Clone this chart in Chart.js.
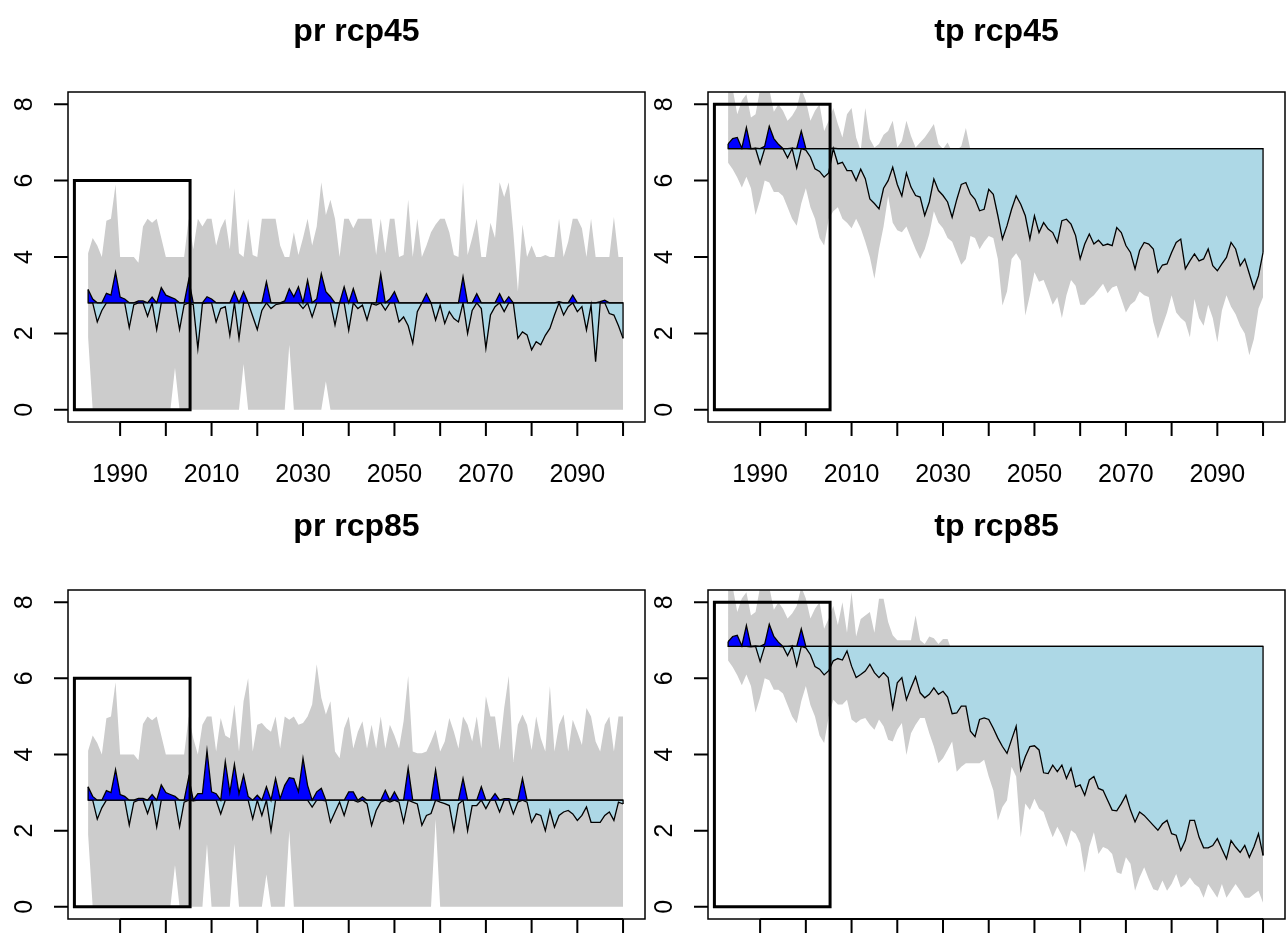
<!DOCTYPE html>
<html>
<head>
<meta charset="utf-8">
<script src="https://cdn.jsdelivr.net/npm/chart.js@4.4.0/dist/chart.umd.min.js"></script>
<style>
  html, body { margin: 0; padding: 0; background: #fff; overflow: hidden; }
  #wrap { position: relative; width: 1286px; height: 934px; }
  canvas { position: absolute; }
</style>
</head>
<body>
<div id="wrap">
  <canvas id="prRcp45" width="648" height="500" style="left:0;top:0;width:648px;height:500px"></canvas>
  <canvas id="tpRcp45" width="646" height="500" style="left:640px;top:0;width:646px;height:500px"></canvas>
  <canvas id="prRcp85" width="648" height="436" style="left:0;top:498px;width:648px;height:436px"></canvas>
  <canvas id="tpRcp85" width="646" height="436" style="left:640px;top:498px;width:646px;height:436px"></canvas>
</div>
<script>
// years of the series
const years = [
  1983, 1984, 1985, 1986, 1987, 1988, 1989, 1990, 1991, 1992,
  1993, 1994, 1995, 1996, 1997, 1998, 1999, 2000, 2001, 2002,
  2003, 2004, 2005, 2006, 2007, 2008, 2009, 2010, 2011, 2012,
  2013, 2014, 2015, 2016, 2017, 2018, 2019, 2020, 2021, 2022,
  2023, 2024, 2025, 2026, 2027, 2028, 2029, 2030, 2031, 2032,
  2033, 2034, 2035, 2036, 2037, 2038, 2039, 2040, 2041, 2042,
  2043, 2044, 2045, 2046, 2047, 2048, 2049, 2050, 2051, 2052,
  2053, 2054, 2055, 2056, 2057, 2058, 2059, 2060, 2061, 2062,
  2063, 2064, 2065, 2066, 2067, 2068, 2069, 2070, 2071, 2072,
  2073, 2074, 2075, 2076, 2077, 2078, 2079, 2080, 2081, 2082,
  2083, 2084, 2085, 2086, 2087, 2088, 2089, 2090, 2091, 2092,
  2093, 2094, 2095, 2096, 2097, 2098, 2099, 2100
];

// ---- pr: historical 1983-2005 ----
const prHist    = [3.15, 2.90, 2.30, 2.60, 3.05, 3.00, 3.60, 2.95, 2.90, 2.15, 2.75, 2.85, 2.85, 2.45, 2.95, 2.10, 3.20, 3.00, 2.95, 2.90, 2.10, 2.75, 3.40];
const prHistMax = [4.10, 4.50, 4.30, 4.00, 4.95, 5.00, 5.90, 4.00, 4.00, 4.00, 4.00, 3.85, 4.80, 5.00, 4.90, 5.00, 4.50, 4.00, 4.00, 4.00, 4.00, 4.00, 5.00];
const prHistMin = [1.90, 0, 0, 0, 0, 0, 0, 0, 0, 0, 0, 0, 0, 0, 0, 0, 0, 0, 0, 1.10, 0, 0, 0];

// ---- pr rcp45: 2006-2100 ----
const pr45 = [
  2.75, 1.60, 2.78, 2.96, 2.90, 2.30, 2.65, 2.70, 1.95, 3.09,
  1.87, 3.09, 2.80, 2.45, 2.10, 2.60, 3.35, 2.65, 2.75, 2.78,
  2.85, 3.17, 2.96, 3.22, 2.65, 3.39, 2.43, 2.90, 3.56, 3.09,
  2.96, 2.22, 2.80, 3.22, 2.08, 3.17, 2.65, 2.74, 2.35, 2.78,
  2.74, 3.56, 2.61, 2.90, 3.09, 2.30, 2.43, 2.20, 1.74, 2.57,
  2.80, 3.04, 2.80, 2.35, 2.74, 2.26, 2.57, 2.39, 2.30, 3.48,
  2.00, 2.60, 3.04, 2.65, 1.61, 2.48, 2.70, 3.04, 2.57, 2.96,
  2.80, 1.87, 2.04, 1.96, 1.57, 1.78, 1.70, 1.95, 2.13, 2.48,
  2.83, 2.48, 2.70, 3.00, 2.57, 2.70, 2.09, 2.74, 1.26, 2.83,
  2.87, 2.52, 2.48, 2.20, 1.87
];
const pr45Max = [
  4.20, 5.00, 4.80, 5.00, 5.00, 4.30, 4.75, 5.00, 4.20, 5.80,
  4.10, 4.00, 5.00, 4.05, 4.00, 5.00, 5.00, 5.00, 5.00, 4.30,
  4.00, 4.00, 4.65, 4.05, 4.50, 5.00, 4.30, 4.80, 5.96, 5.10,
  5.50, 5.00, 4.00, 5.00, 5.00, 4.75, 5.00, 5.00, 5.00, 5.00,
  4.05, 5.00, 4.10, 5.00, 5.00, 4.00, 4.05, 5.50, 4.00, 5.00,
  4.00, 4.30, 4.65, 4.85, 5.00, 5.00, 4.65, 4.05, 4.00, 5.96,
  4.05, 4.50, 5.00, 4.00, 4.00, 4.90, 4.50, 5.96, 5.57, 5.96,
  4.65, 3.10, 4.85, 4.00, 4.30, 4.00, 4.00, 4.05, 4.00, 4.00,
  5.00, 4.00, 4.40, 5.00, 5.00, 4.75, 4.00, 5.00, 4.00, 4.00,
  4.00, 4.00, 5.05, 4.00, 4.00
];
const pr45Min = [
  0, 0, 0, 0, 0, 0, 0, 0, 0, 0,
  0, 1.20, 0, 0, 0, 0, 0, 0, 0, 0,
  0, 1.70, 0, 0, 0, 0, 0, 0, 0, 0.75,
  0, 0, 0, 0, 0, 0, 0, 0, 0, 0,
  0, 0, 0, 0, 0, 0, 0, 0, 0, 0,
  0, 0, 0, 0, 0, 0, 0, 0, 0, 0,
  0, 0, 0, 0, 0, 0, 0, 0, 0, 0,
  0, 0, 0, 0, 0, 0, 0, 0, 0, 0,
  0, 0, 0, 0, 0, 0, 0, 0, 0, 0,
  0, 0, 0, 0, 0
];

// ---- pr rcp85: 2006-2100 ----
const pr85 = [
  2.78, 2.97, 2.97, 4.10, 3.02, 2.97, 2.44, 3.81, 3.00, 3.74,
  2.97, 3.46, 2.90, 2.31, 2.93, 2.40, 3.15, 2.00, 3.37, 2.84,
  3.19, 3.39, 3.37, 3.02, 3.90, 3.19, 2.62, 3.02, 3.11, 2.78,
  2.22, 2.49, 2.75, 2.40, 3.02, 3.02, 2.75, 2.89, 2.71, 2.14,
  2.53, 2.75, 3.06, 2.75, 3.02, 2.75, 2.22, 3.64, 2.75, 2.70,
  2.14, 2.40, 2.45, 3.59, 2.75, 2.71, 2.66, 2.00, 2.70, 3.37,
  2.00, 2.66, 2.66, 3.15, 2.58, 2.80, 2.97, 2.49, 2.84, 2.84,
  2.44, 2.75, 3.37, 2.75, 2.22, 2.44, 2.40, 2.00, 2.53, 2.09,
  2.40, 2.49, 2.53, 2.44, 2.27, 2.40, 2.62, 2.22, 2.22, 2.22,
  2.40, 2.49, 2.27, 2.75, 2.70
];
const pr85Max = [
  4.43, 4.00, 4.78, 5.00, 5.00, 4.08, 4.96, 4.50, 4.43, 5.31,
  4.08, 5.40, 6.00, 4.08, 4.78, 4.83, 4.69, 4.60, 5.00, 4.16,
  5.00, 4.91, 5.00, 4.78, 4.83, 5.00, 5.31, 6.37, 5.49, 5.05,
  5.40, 4.08, 3.90, 4.69, 5.00, 4.16, 4.60, 4.87, 4.16, 4.78,
  4.16, 5.00, 4.16, 4.78, 4.50, 4.16, 4.87, 6.06, 4.08, 4.03,
  4.03, 4.08, 4.34, 4.65, 4.08, 4.34, 4.96, 4.60, 4.16, 5.00,
  4.78, 4.34, 5.00, 4.16, 5.53, 5.00, 5.00, 4.12, 5.22, 6.06,
  3.80, 4.78, 5.05, 4.78, 4.12, 5.00, 4.43, 4.08, 5.80, 4.08,
  4.78, 5.05, 4.08, 4.91, 4.60, 4.25, 5.22, 5.00, 4.34, 4.08,
  4.78, 5.00, 4.08, 5.00, 5.00
];
const pr85Min = [
  0, 0, 0, 1.65, 0, 0, 0, 0, 0, 1.65,
  0, 0, 0, 0, 0, 0, 0.85, 0, 0, 0,
  0, 2.00, 0, 0, 0, 0, 0, 0, 0, 0,
  0, 0, 0, 0, 0, 0, 0, 0, 0, 0,
  0, 0, 0, 0, 0, 0, 0, 0, 0, 0,
  0, 0, 0, 2.30, 0, 0, 0, 0, 0, 0,
  0, 0, 0, 0, 0, 0, 0, 0, 0, 0,
  0, 0, 0, 0, 0, 0, 0, 0, 0, 0,
  0, 0, 0, 0, 0, 0, 0, 0, 0, 0,
  0, 0, 0, 0, 0
];

// ---- tp: historical 1983-2005 ----
const tpHist    = [6.96, 7.10, 7.13, 6.85, 7.39, 6.83, 6.85, 6.44, 6.90, 7.42, 7.10, 6.95, 6.83, 6.60, 6.85, 6.33, 7.30, 6.80, 6.62, 6.31, 6.24, 6.09, 6.20];
const tpHistMax = [8.50, 8.40, 7.74, 8.10, 8.26, 7.65, 7.74, 8.40, 8.40, 8.40, 7.80, 8.00, 7.83, 7.57, 7.70, 7.90, 8.40, 8.10, 7.57, 7.83, 8.00, 7.30, 7.57];
const tpHistMin = [6.47, 6.30, 6.08, 5.82, 6.10, 5.80, 5.10, 5.50, 6.00, 5.95, 5.70, 5.70, 5.60, 5.30, 5.00, 4.82, 5.40, 5.80, 5.30, 5.00, 4.50, 4.30, 5.00];

// ---- tp rcp45: 2006-2100 ----
const tp45 = [
  6.85, 6.44, 6.48, 6.26, 6.26, 6.00, 6.30, 6.05, 5.52, 5.40,
  5.26, 5.80, 6.00, 6.35, 5.90, 5.60, 6.20, 5.83, 5.61, 5.57,
  5.09, 5.44, 6.04, 5.74, 5.61, 5.44, 5.04, 5.50, 5.90, 5.95,
  5.65, 5.51, 5.21, 5.25, 5.77, 5.64, 5.08, 4.47, 4.82, 5.25,
  5.60, 5.38, 5.08, 4.47, 5.08, 4.64, 4.90, 4.73, 4.64, 4.38,
  4.95, 4.99, 4.86, 4.56, 3.95, 4.34, 4.60, 4.34, 4.44, 4.30,
  4.34, 4.30, 4.77, 4.64, 4.30, 4.12, 3.69, 4.17, 4.38, 4.34,
  4.21, 3.60, 3.79, 3.82, 4.12, 4.38, 4.47, 3.69, 3.90, 4.08,
  3.90, 3.95, 4.21, 3.77, 3.64, 3.82, 3.99, 4.38, 4.21, 3.77,
  3.95, 3.56, 3.17, 3.51, 4.12
];
const tp45Max = [
  7.90, 7.48, 7.13, 7.74, 7.90, 7.13, 6.78, 7.90, 7.09, 6.87,
  6.96, 7.20, 7.30, 7.57, 6.87, 7.04, 7.57, 7.17, 6.87, 7.00,
  7.13, 7.30, 7.48, 6.96, 6.83, 7.00, 6.75, 6.80, 6.90, 7.38,
  6.80, 6.60, 6.40, 6.50, 6.70, 6.60, 6.30, 6.00, 6.10, 6.40,
  6.60, 6.50, 6.20, 6.00, 6.20, 6.00, 6.10, 6.00, 5.90, 5.80,
  6.10, 6.20, 6.00, 5.90, 5.50, 5.70, 5.90, 5.80, 5.80, 5.70,
  5.70, 5.70, 6.00, 5.90, 5.70, 5.50, 5.20, 5.50, 5.70, 5.60,
  5.50, 5.10, 5.20, 5.30, 5.50, 5.70, 5.80, 5.10, 5.30, 5.40,
  5.30, 5.30, 5.50, 5.20, 5.10, 5.20, 5.40, 5.70, 5.50, 5.20,
  5.30, 5.00, 4.70, 5.00, 5.40
];
const tp45Min = [
  5.20, 5.30, 5.00, 4.90, 4.75, 5.00, 4.75, 4.40, 4.00, 3.43,
  4.20, 4.80, 5.60, 4.90, 4.70, 4.65, 4.80, 4.50, 4.20, 3.95,
  4.20, 4.60, 5.20, 4.90, 4.75, 4.50, 4.40, 4.10, 3.80, 3.95,
  4.55, 4.50, 4.20, 4.40, 4.55, 4.50, 3.95, 2.73, 3.10, 3.95,
  4.10, 3.90, 2.47, 3.00, 3.60, 3.35, 3.40, 3.10, 2.75, 2.95,
  2.40, 3.00, 3.40, 3.25, 2.75, 2.75, 2.90, 3.00, 3.15, 3.30,
  3.05, 3.20, 3.25, 2.90, 2.55, 2.75, 2.85, 3.10, 3.00, 2.95,
  2.30, 1.86, 2.20, 2.55, 3.00, 2.55, 2.40, 2.30, 1.90, 2.90,
  2.40, 2.20, 2.75, 2.40, 1.77, 2.60, 3.00, 2.70, 2.50, 2.20,
  2.00, 1.43, 1.85, 2.65, 2.95
];

// ---- tp rcp85: 2006-2100 ----
const tp85 = [
  6.46, 6.52, 6.48, 6.72, 6.32, 6.02, 6.10, 6.19, 6.37, 6.15,
  6.02, 6.15, 6.02, 5.22, 5.88, 6.02, 5.44, 5.75, 6.04, 5.62,
  5.49, 5.58, 5.75, 5.58, 5.66, 5.51, 5.07, 5.09, 5.27, 5.27,
  4.61, 4.47, 4.92, 4.96, 4.92, 4.69, 4.43, 4.21, 4.03, 4.39,
  4.74, 3.59, 3.94, 4.21, 4.23, 4.12, 3.52, 3.50, 3.72, 3.55,
  3.72, 3.37, 3.64, 3.15, 3.20, 2.93, 3.33, 3.42, 3.11, 3.06,
  2.80, 2.54, 2.52, 2.71, 2.93, 2.54, 2.23, 2.49, 2.40, 2.27,
  2.14, 2.01, 2.18, 2.27, 1.92, 1.88, 1.48, 1.74, 2.27, 2.27,
  1.83, 1.55, 1.55, 1.61, 1.79, 1.52, 1.26, 1.74, 1.57, 1.43,
  1.61, 1.30, 1.57, 1.92, 1.35
];
const tp85Max = [
  7.90, 7.40, 8.00, 7.20, 8.26, 7.10, 7.56, 7.65, 7.74, 7.20,
  8.09, 8.09, 7.48, 7.13, 7.00, 7.00, 7.00, 7.00, 7.65, 7.00,
  6.90, 7.10, 7.05, 6.90, 7.03, 7.03, 6.70, 6.60, 6.50, 6.60,
  6.20, 6.00, 6.30, 6.30, 6.20, 6.00, 5.80, 5.60, 5.50, 5.70,
  5.90, 5.00, 5.20, 5.50, 5.50, 5.40, 4.90, 4.80, 5.00, 4.90,
  5.00, 4.70, 4.90, 4.50, 4.50, 4.20, 4.60, 4.70, 4.40, 4.30,
  4.10, 3.90, 3.80, 4.00, 4.20, 3.90, 3.50, 3.70, 3.70, 3.60,
  3.40, 3.30, 3.40, 3.50, 3.20, 3.10, 2.80, 3.00, 3.50, 3.50,
  3.10, 2.80, 2.80, 2.90, 3.00, 2.80, 2.50, 3.00, 2.80, 2.70,
  2.90, 2.60, 2.80, 3.10, 2.60
];
const tp85Min = [
  5.44, 5.31, 5.31, 5.44, 4.92, 4.83, 4.92, 4.96, 4.78, 4.65,
  4.92, 4.74, 4.39, 4.34, 4.65, 4.83, 3.99, 4.56, 4.78, 4.96,
  4.96, 4.56, 4.21, 3.77, 3.90, 4.12, 4.34, 3.55, 3.68, 3.77,
  3.77, 3.77, 3.77, 3.86, 3.42, 3.06, 2.27, 2.62, 2.80, 3.68,
  3.42, 1.83, 2.71, 2.54, 2.84, 2.58, 2.49, 2.14, 1.83, 2.10,
  1.88, 1.57, 2.01, 1.92, 1.66, 0.90, 1.57, 1.96, 1.39, 1.57,
  1.52, 1.39, 0.91, 0.86, 1.30, 1.13, 0.42, 0.77, 1.04, 0.73,
  0.46, 0.42, 0.69, 0.42, 0.60, 0.86, 0.51, 0.60, 0.77, 0.60,
  0.51, 0.24, 0.60, 0.42, 0.24, 0.60, 0.24, 0.42, 0.60, 0.42,
  0.24, 0.24, 0.33, 0.42, 0.10
];

// reference levels and the historical window box
const prBase = 2.80;
const tpBase = 6.84;
const boxYears = [1980, 2005.3];
const prBoxTop = 6;
const tpBoxTop = 8;

// axes
const xTicks = [1990, 2000, 2010, 2020, 2030, 2040, 2050, 2060, 2070, 2080, 2090, 2100];
const xTickLabels = ['1990', '', '2010', '', '2030', '', '2050', '', '2070', '', '2090', ''];
const yTicks = [0, 2, 4, 6, 8];
const xRange = [1978.6, 2104.8];
const yRange = [-0.32, 8.32];

const rFont = '"Liberation Sans", Arial, sans-serif';

// R-style box, axes, tick labels and title
const rAxes = {
  id: 'rAxes',
  afterDraw(chart, args, opts) {
    const { ctx, chartArea: a } = chart;
    const x = chart.scales.x, y = chart.scales.y;
    ctx.save();
    ctx.strokeStyle = '#000';
    ctx.fillStyle = '#000';
    ctx.lineWidth = 1.5;
    ctx.strokeRect(a.left, a.top, a.right - a.left, a.bottom - a.top);

    ctx.beginPath();
    const xa = x.getPixelForValue(xTicks[0]);
    const xb = x.getPixelForValue(xTicks[xTicks.length - 1]);
    ctx.moveTo(xa, a.bottom);
    ctx.lineTo(xb, a.bottom);
    xTicks.forEach(v => {
      const px = x.getPixelForValue(v);
      ctx.moveTo(px, a.bottom);
      ctx.lineTo(px, a.bottom + 14);
    });
    yTicks.forEach(v => {
      const py = y.getPixelForValue(v);
      ctx.moveTo(a.left, py);
      ctx.lineTo(a.left - 14, py);
    });
    ctx.lineWidth = 2;
    ctx.stroke();

    ctx.font = '25px ' + rFont;
    ctx.textAlign = 'center';
    ctx.textBaseline = 'alphabetic';
    xTicks.forEach((v, i) => {
      if (xTickLabels[i]) ctx.fillText(xTickLabels[i], x.getPixelForValue(v), a.bottom + 60);
    });
    yTicks.forEach(v => {
      ctx.save();
      ctx.translate(a.left - 36.5, y.getPixelForValue(v));
      ctx.rotate(-Math.PI / 2);
      ctx.fillText(String(v), 0, 0);
      ctx.restore();
    });

    ctx.font = 'bold 32px ' + rFont;
    ctx.fillText(opts.title, (a.left + a.right) / 2, a.top - opts.titleGap);
    ctx.restore();
  }
};

function series(hist, future) {
  return hist.concat(future);
}

function pts(values) {
  return years.map((yr, i) => ({ x: yr, y: values[i] }));
}

function makePanel(id, title, values, maxs, mins, base, boxTop, pad, titleGap) {
  const last = years.length - 1;
  const below = values.map(v => Math.min(v, base));
  const above = values.map(v => Math.max(v, base));
  const frame = [
    { x: years[0], y: values[0] }, { x: years[0], y: base },
    { x: years[last], y: base }, { x: years[last], y: values[last] }
  ];
  const box = [
    { x: boxYears[0], y: 0 }, { x: boxYears[0], y: boxTop },
    { x: boxYears[1], y: boxTop }, { x: boxYears[1], y: 0 }, { x: boxYears[0], y: 0 }
  ];
  new Chart(document.getElementById(id), {
    type: 'line',
    data: {
      datasets: [
        { data: pts(maxs), fill: '+1', backgroundColor: '#cccccc', borderColor: 'rgba(0,0,0,0)', borderWidth: 0, order: 10 },
        { data: pts(mins), fill: false, borderColor: 'rgba(0,0,0,0)', borderWidth: 0, order: 10 },
        { data: pts(below), fill: { value: base }, backgroundColor: '#add8e6', borderColor: '#000', borderWidth: 1.3, order: 4 },
        { data: pts(above), fill: { value: base }, backgroundColor: '#0000ff', borderColor: '#000', borderWidth: 1.3, order: 3 },
        { data: frame, fill: false, borderColor: '#000', borderWidth: 1.3, order: 2 },
        { data: box, fill: false, borderColor: '#000', borderWidth: 3, borderCapStyle: 'square', order: 1 }
      ]
    },
    options: {
      responsive: false,
      animation: false,
      events: [],
      layout: { padding: pad },
      elements: { point: { radius: 0 }, line: { tension: 0 } },
      scales: {
        x: { type: 'linear', display: false, min: xRange[0], max: xRange[1] },
        y: { type: 'linear', display: false, min: yRange[0], max: yRange[1] }
      },
      plugins: {
        legend: { display: false },
        tooltip: { enabled: false },
        rAxes: { title: title, titleGap: titleGap }
      }
    },
    plugins: [rAxes]
  });
}

const padTopL = { left: 68, top: 92, right: 3, bottom: 78 };
const padTopR = { left: 68, top: 92, right: 1, bottom: 78 };
const padBotL = { left: 68, top: 92, right: 3, bottom: 15 };
const padBotR = { left: 68, top: 92, right: 1, bottom: 15 };

makePanel('prRcp45', 'pr rcp45', series(prHist, pr45), series(prHistMax, pr45Max), series(prHistMin, pr45Min), prBase, prBoxTop, padTopL, 51);
makePanel('tpRcp45', 'tp rcp45', series(tpHist, tp45), series(tpHistMax, tp45Max), series(tpHistMin, tp45Min), tpBase, tpBoxTop, padTopR, 51);
makePanel('prRcp85', 'pr rcp85', series(prHist, pr85), series(prHistMax, pr85Max), series(prHistMin, pr85Min), prBase, prBoxTop, padBotL, 54);
makePanel('tpRcp85', 'tp rcp85', series(tpHist, tp85), series(tpHistMax, tp85Max), series(tpHistMin, tp85Min), tpBase, tpBoxTop, padBotR, 54);
</script>
</body>
</html>
